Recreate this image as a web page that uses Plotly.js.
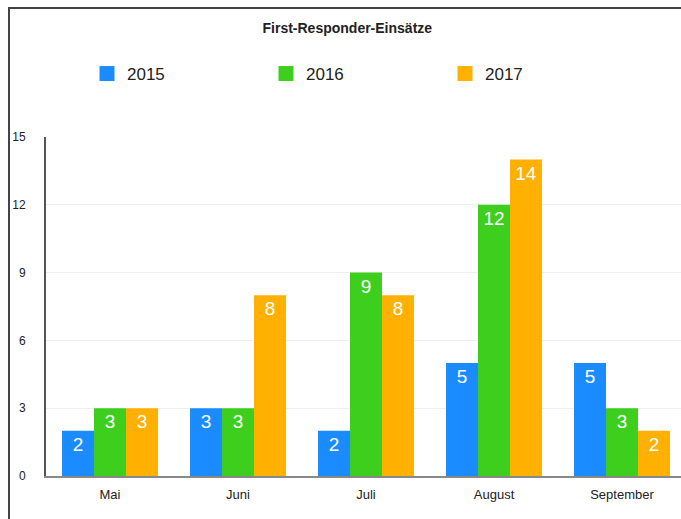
<!DOCTYPE html>
<html>
<head>
<meta charset="utf-8">
<script src="https://cdn.plot.ly/plotly-3.0.1.min.js"></script>
<style>
html,body{margin:0;padding:0;background:#fff;}
#wrap{position:absolute;left:0;top:0;width:681px;height:519px;overflow:hidden;}
#frame{position:absolute;left:8px;top:7px;width:700px;height:600px;border-left:2px solid #444;border-top:2px solid #444;pointer-events:none;z-index:5;}
#chart{position:absolute;left:0;top:0;width:681px;height:519px;}
</style>
</head>
<body>
<div id="wrap">
<div id="chart"></div>
<div id="frame"></div>
</div>
<script>
const categories = ["Mai", "Juni", "Juli", "August", "September"];
const seriesNames = ["2015", "2016", "2017"];
const values2015 = [2, 3, 2, 5, 5];
const values2016 = [3, 3, 9, 12, 3];
const values2017 = [3, 8, 8, 14, 2];
const colors = ["#1a8cff", "#3ecf1e", "#ffb000"];
const yTicks = [0, 3, 6, 9, 12, 15];

const allValues = [values2015, values2016, values2017];
const traces = allValues.map((v, i) => ({
  type: "bar",
  name: seriesNames[i],
  x: categories,
  y: v,
  text: v.map(String),
  textposition: "inside",
  insidetextanchor: "end",
  constraintext: "none",
  textfont: {family: "Liberation Sans, Arial, sans-serif", size: 19, color: "#ffffff"},
  marker: {color: colors[i], line: {width: 0}},
  showlegend: false,
  hoverinfo: "none"
}));
// legend-only entries with larger square symbols
seriesNames.forEach((n, i) => {
  traces.push({
    type: "scatter",
    mode: "markers",
    name: n,
    x: [null],
    y: [null],
    marker: {symbol: "square", size: 15, color: colors[i]},
    showlegend: true,
    hoverinfo: "none"
  });
});

const layout = {
  width: 681,
  height: 519,
  margin: {l: 46, r: 0, t: 137, b: 43, pad: 0},
  paper_bgcolor: "#ffffff",
  plot_bgcolor: "#ffffff",
  font: {family: "Liberation Sans, Arial, sans-serif", color: "#222", size: 13},
  title: {
    text: "<b>First-Responder-Einsätze</b>",
    font: {size: 14, color: "#222"},
    x: 0.51, xanchor: "center",
    y: 1 - 28/519, yanchor: "middle"
  },
  barmode: "group",
  bargap: 0.25,
  bargroupgap: 0,
  showlegend: true,
  legend: {
    orientation: "h",
    x: 87/681, xanchor: "left",
    y: 1 - 74/519, yanchor: "middle",
    yref: "container", xref: "container",
    entrywidth: 134, entrywidthmode: "pixels",
    font: {size: 17, color: "#222"},
    traceorder: "normal",
    itemclick: false
  },
  xaxis: {
    type: "category",
    range: [-0.5, -0.5 + 635/128],
    showline: true, linecolor: "#888", linewidth: 1.5,
    showgrid: false, ticks: "", zeroline: false,
    tickfont: {size: 13, color: "#222"},
    ticklabelstandoff: 6,
    fixedrange: true
  },
  yaxis: {
    range: [0, 15],
    tickvals: yTicks,
    ticktext: yTicks.map(String),
    showline: true, linecolor: "#555", linewidth: 2,
    showgrid: true, gridcolor: "#eeeeee", gridwidth: 1,
    zeroline: false, ticks: "",
    tickfont: {size: 12, color: "#222"},
    ticklabelstandoff: 16,
    fixedrange: true
  }
};

Plotly.newPlot("chart", traces, layout, {displayModeBar: false, staticPlot: true});
</script>
</body>
</html>
